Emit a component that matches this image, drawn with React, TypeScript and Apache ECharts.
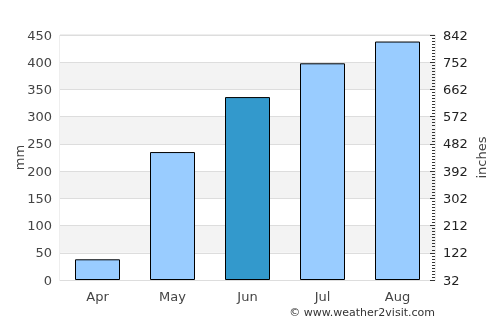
import React, { useEffect, useRef } from "react";
import * as echarts from "echarts";

const categories = ["Apr", "May", "Jun", "Jul", "Aug"];
const rainfallMm = [38, 235, 336, 398, 438];
const highlightIndex = 2;
const leftTicks = { min: 0, max: 450, interval: 50 };
const rightOffset = 32;
const rightTicks = { min: 0, max: 810, interval: 90 };

export default function App() {
  const ref = useRef<HTMLDivElement>(null);
  useEffect(() => {
    if (!ref.current) return;
    const chart = echarts.init(ref.current, null, { renderer: "svg" });
    const font = "DejaVu Sans";
    chart.setOption({
      animation: false,
      textStyle: { fontFamily: font },
      grid: {
        left: 60,
        right: 65,
        top: 35,
        bottom: 45,
        outerBoundsMode: "none",
        containLabel: false,
        show: true,
        borderColor: "#dddddd",
        borderWidth: 1,
      },
      xAxis: {
        type: "category",
        data: categories,
        axisLine: { show: true, lineStyle: { color: "#dddddd" } },
        axisTick: { show: false },
        axisLabel: { color: "#444", fontSize: 13, margin: 10, fontFamily: font },
      },
      yAxis: [
        {
          type: "value",
          min: leftTicks.min,
          max: leftTicks.max,
          interval: leftTicks.interval,
          name: "mm",
          nameLocation: "middle",
          nameGap: 34,
          nameMoveOverlap: false,
          nameTextStyle: { color: "#444", fontSize: 13, fontFamily: font },
          axisLine: { show: false },
          axisTick: { show: false },
          axisLabel: { color: "#444", fontSize: 13, margin: 8, fontFamily: font },
          splitLine: { show: true, lineStyle: { color: "#dddddd" } },
          splitArea: { show: true, areaStyle: { color: ["#ffffff", "#f3f3f3"] } },
        },
        {
          type: "value",
          position: "right",
          min: rightTicks.min,
          max: rightTicks.max,
          interval: rightTicks.interval,
          name: "inches",
          nameLocation: "middle",
          nameGap: 40,
          nameMoveOverlap: false,
          nameTextStyle: { color: "#444", fontSize: 13, fontFamily: font },
          axisLine: { show: false },
          axisTick: { show: true, inside: true, length: 5, lineStyle: { color: "#333" } },
          minorTick: { show: true, splitNumber: 9, length: 3, lineStyle: { color: "#333" } },
          axisLabel: {
            color: "#222",
            fontSize: 13,
            margin: 8,
            fontFamily: font,
            formatter: (v: number) => String(v + rightOffset),
          },
          splitLine: { show: false },
        },
      ],
      series: [
        {
          type: "bar",
          yAxisIndex: 0,
          barWidth: "60%",
          data: rainfallMm.map((v, i) => ({
            value: v,
            itemStyle: { color: i === highlightIndex ? "#3399cc" : "#99ccff" },
          })),
          itemStyle: { borderColor: "#000", borderWidth: 1 },
        },
      ],
      graphic: [
        {
          type: "text",
          right: 65,
          top: 307,
          style: {
            text: "© www.weather2visit.com",
            fill: "#333",
            fontSize: 11,
            fontFamily: font,
          },
        },
      ],
    });
    return () => chart.dispose();
  }, []);
  return (
    <div
      ref={ref}
      style={{ position: "fixed", left: 0, top: 0, width: 500, height: 325 }}
    />
  );
}
